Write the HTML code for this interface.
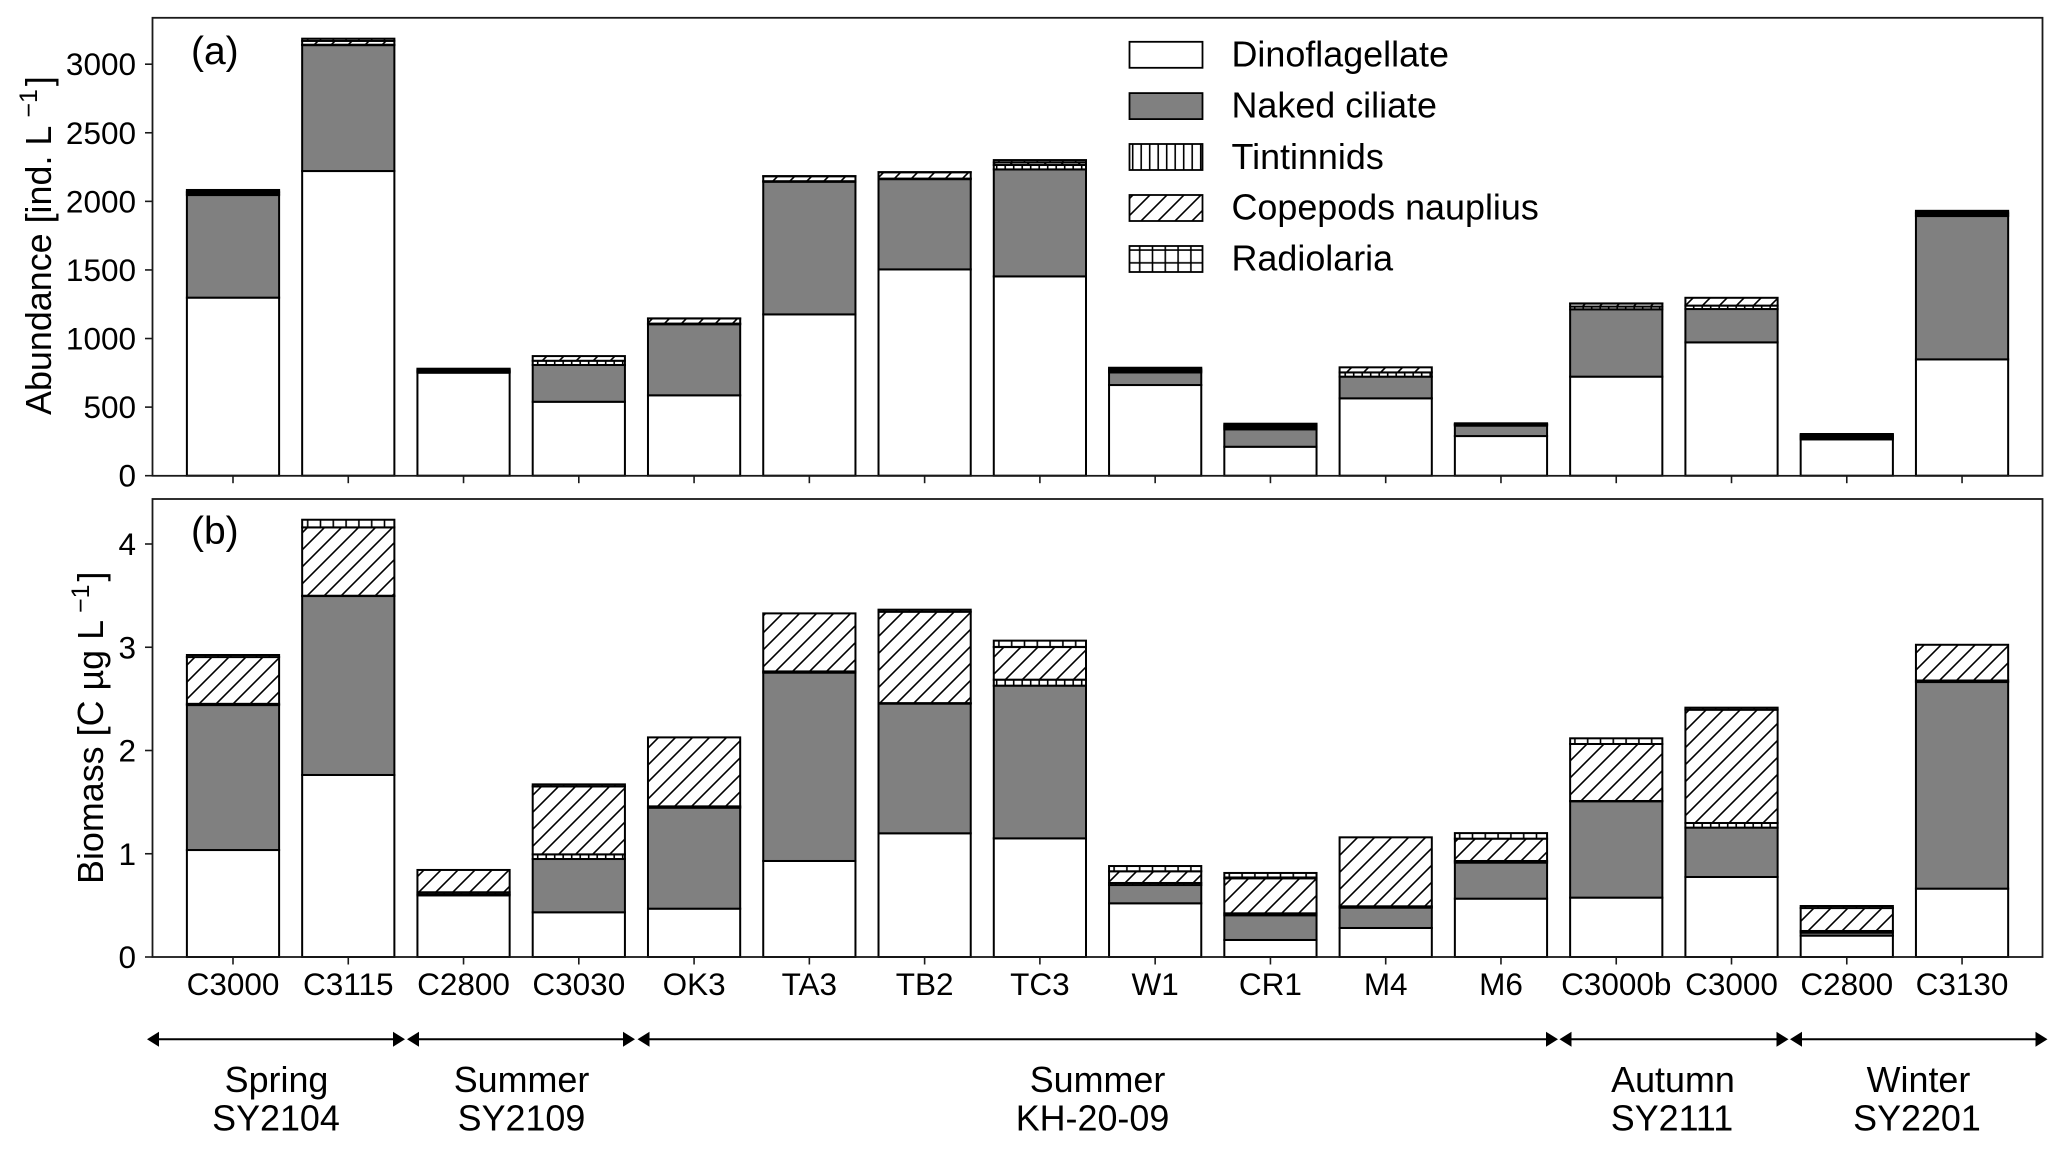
<!DOCTYPE html>
<html lang="en">
<head>
<meta charset="utf-8">
<title>Microzooplankton abundance and biomass</title>
<style>
  html, body { margin: 0; padding: 0; background: #fff; }
  svg { display: block; }
  text { font-family: "Liberation Sans", Arial, sans-serif; fill: #000; }
  .big { font-size: 35.9px; }
  .tick { font-size: 31.5px; }
  .panel { font-size: 39px; }
</style>
</head>
<body>
<svg id="chart" xmlns="http://www.w3.org/2000/svg" width="2067" height="1149" viewBox="0 0 2067 1149">
  <defs>
    <pattern id="hatch-tint" patternUnits="userSpaceOnUse" x="-2.05" y="0" width="8.5" height="8.5">
      <rect width="8.5" height="8.5" fill="#fff"/>
      <path d="M4.25 -1V9.5" stroke="#000" stroke-width="1.6"/>
    </pattern>
    <pattern id="hatch-cope" patternUnits="userSpaceOnUse" x="2" y="0" width="17" height="17">
      <rect width="17" height="17" fill="#fff"/>
      <path d="M-2 2L2 -2M-2 19L19 -2M15 19L19 15" stroke="#000" stroke-width="1.6"/>
    </pattern>
    <pattern id="hatch-radio" patternUnits="userSpaceOnUse" x="-5.9" y="0.4" width="12.8" height="12.8">
      <rect width="12.8" height="12.8" fill="#fff"/>
      <path d="M6.4 -1V14M-1 6.4H14" stroke="#000" stroke-width="1.6"/>
    </pattern>
  </defs>

  <rect width="2067" height="1149" fill="#fff"/>
  <g id="bars-a"></g>
  <g id="bars-b"></g>
  <rect x="152.5" y="17.8" width="1890" height="458" fill="none" stroke="#1a1a1a" stroke-width="1.8"/>
  <rect x="152.5" y="499" width="1890" height="458" fill="none" stroke="#1a1a1a" stroke-width="1.8"/>
  <g id="axes-a"></g>
  <g id="axes-b"></g>

  <text class="panel" x="191" y="64">(a)</text>
  <text class="panel" x="191" y="544">(b)</text>

  <text class="big" transform="translate(51 415) rotate(-90)">Abundance [ind. L<tspan dx="8" dy="-14" font-size="25">−1</tspan><tspan dx="3" dy="14">]</tspan></text>
  <text class="big" transform="translate(103 884) rotate(-90)">Biomass [C µg L<tspan dx="7" dy="-14" font-size="25">−1</tspan><tspan dx="3" dy="14">]</tspan></text>

  <g stroke="#000" stroke-width="1.8">
    <rect x="1129.5" y="41.8" width="73" height="26" fill="#fff"/>
    <rect x="1129.5" y="93.1" width="73" height="26" fill="#808080"/>
    <rect x="1129.5" y="144" width="73" height="26" fill="url(#hatch-tint)"/>
    <rect x="1129.5" y="195" width="73" height="26" fill="url(#hatch-cope)"/>
    <rect x="1129.5" y="246" width="73" height="26" fill="url(#hatch-radio)"/>
  </g>
  <g>
    <text class="big" x="1231.5" y="66.5">Dinoflagellate</text>
    <text class="big" x="1231.5" y="117.5">Naked ciliate</text>
    <text class="big" x="1231.5" y="169">Tintinnids</text>
    <text class="big" x="1231.5" y="219.5">Copepods nauplius</text>
    <text class="big" x="1231.5" y="270.5">Radiolaria</text>
  </g>

  <g stroke="#000" stroke-width="2" fill="#000">
    <g><path d="M156 1039.3H396"/><path stroke="none" d="M147 1039.3L159 1031.8V1046.8ZM405 1039.3L393 1031.8V1046.8Z"/></g>
    <g><path d="M416 1039.3H626"/><path stroke="none" d="M407 1039.3L419 1031.8V1046.8ZM635 1039.3L623 1031.8V1046.8Z"/></g>
    <g><path d="M646 1039.3H1549"/><path stroke="none" d="M637.5 1039.3L649.5 1031.8V1046.8ZM1558 1039.3L1546 1031.8V1046.8Z"/></g>
    <g><path d="M1568 1039.3H1780"/><path stroke="none" d="M1559.5 1039.3L1571.5 1031.8V1046.8ZM1788.5 1039.3L1776.5 1031.8V1046.8Z"/></g>
    <g><path d="M1798 1039.3H2039"/><path stroke="none" d="M1790 1039.3L1802 1031.8V1046.8ZM2047.5 1039.3L2035.5 1031.8V1046.8Z"/></g>
  </g>
  <g text-anchor="middle">
    <text class="big" x="276.5" y="1092">Spring</text>
    <text class="big" x="276" y="1130.5">SY2104</text>
    <text class="big" x="521.5" y="1092">Summer</text>
    <text class="big" x="521.5" y="1130.5">SY2109</text>
    <text class="big" x="1097.5" y="1092">Summer</text>
    <text class="big" x="1092.5" y="1130.5">KH-20-09</text>
    <text class="big" x="1673" y="1092">Autumn</text>
    <text class="big" x="1672" y="1130.5">SY2111</text>
    <text class="big" x="1918.5" y="1092">Winter</text>
    <text class="big" x="1917" y="1130.5">SY2201</text>
  </g>
</svg>
<script>
const stations = ["C3000","C3115","C2800","C3030","OK3","TA3","TB2","TC3","W1","CR1","M4","M6","C3000b","C3000","C2800","C3130"];

const abundanceDino   = [1298,2221,751,539,586,1176,1504,1453,661,211,564,289,722,972,265,848];
const abundanceNaked  = [748,918,5,268,518,967,658,780,92,127,158,76,491,243,12,1045];
const abundanceTint   = [12,3,8,31,5,4,4,32,11,14,31,6,20,25,9,13];
const abundanceCope   = [12,28,8,34,37,36,46,18,11,14,37,6,22,57,9,12];
const abundanceRadio  = [13,16,8,0,1,1,1,18,12,13,0,5,1,0,9,13];

const biomassDino   = [1.036,1.763,0.597,0.433,0.468,0.93,1.198,1.149,0.52,0.165,0.281,0.565,0.575,0.775,0.207,0.662];
const biomassNaked  = [1.404,1.733,0.01,0.516,0.978,1.824,1.256,1.479,0.177,0.239,0.197,0.349,0.933,0.478,0.029,2.001];
const biomassTint   = [0.012,0.003,0.02,0.045,0.013,0.012,0.005,0.058,0.02,0.019,0.013,0.016,0.003,0.045,0.016,0.015];
const biomassCope   = [0.453,0.662,0.216,0.658,0.668,0.562,0.885,0.316,0.113,0.339,0.668,0.216,0.552,1.097,0.222,0.346];
const biomassRadio  = [0.02,0.074,0,0.02,0,0,0.02,0.062,0.051,0.052,0,0.054,0.055,0.02,0.02,0];

const abundanceTicks = [0,500,1000,1500,2000,2500,3000];
const biomassTicks = [0,1,2,3,4];
const seriesNames = ["dinoflagellate","naked-ciliate","tintinnids","copepods-nauplius","radiolaria"];
const seriesFills = ["#fff","#808080","url(#hatch-tint)","url(#hatch-cope)","url(#hatch-radio)"];

const SVG_NS = "http://www.w3.org/2000/svg";
const barWidthUnits = 0.8;

function xScale(i) { return 233 + i * 115.27; }
function abundanceY(v) { return 475.7 - v * 0.13717; }
function biomassY(v) { return 957 - v * 103.25; }

function drawBars(groupId, panel, yScale, series) {
  const group = document.getElementById(groupId);
  const w = barWidthUnits * 115.27;
  stations.forEach(function (station, i) {
    let base = 0;
    series.forEach(function (values, s) {
      const top = base + values[i];
      const r = document.createElementNS(SVG_NS, "rect");
      r.setAttribute("x", xScale(i) - w / 2);
      r.setAttribute("y", yScale(top));
      r.setAttribute("width", w);
      r.setAttribute("height", yScale(base) - yScale(top));
      r.setAttribute("fill", seriesFills[s]);
      r.setAttribute("stroke", "#000");
      r.setAttribute("stroke-width", "2");
      
      
      group.appendChild(r);
      base = top;
    });
  });
}

function drawYAxis(groupId, panel, yScale, ticks) {
  const group = document.getElementById(groupId);
  ticks.forEach(function (t) {
    const y = yScale(t);
    const line = document.createElementNS(SVG_NS, "line");
    line.setAttribute("x1", 145);
    line.setAttribute("x2", 152.5);
    line.setAttribute("y1", y);
    line.setAttribute("y2", y);
    line.setAttribute("stroke", "#1a1a1a");
    line.setAttribute("stroke-width", "1.6");
    
    
    group.appendChild(line);
    const label = document.createElementNS(SVG_NS, "text");
    label.setAttribute("class", "tick");
    label.setAttribute("x", 136);
    label.setAttribute("y", y + 11);
    label.setAttribute("text-anchor", "end");
    label.textContent = String(t);
    
    
    group.appendChild(label);
  });
}

function drawXAxis(groupId, panel, baseline, showLabels) {
  const group = document.getElementById(groupId);
  stations.forEach(function (station, i) {
    const x = xScale(i);
    const line = document.createElementNS(SVG_NS, "line");
    line.setAttribute("x1", x);
    line.setAttribute("x2", x);
    line.setAttribute("y1", baseline);
    line.setAttribute("y2", baseline + 7.5);
    line.setAttribute("stroke", "#1a1a1a");
    line.setAttribute("stroke-width", "1.6");
    
    
    group.appendChild(line);
    if (showLabels) {
      const label = document.createElementNS(SVG_NS, "text");
      label.setAttribute("class", "tick");
      label.setAttribute("x", x);
      label.setAttribute("y", 995);
      label.setAttribute("text-anchor", "middle");
      label.textContent = station;
      
      
      group.appendChild(label);
    }
  });
}

drawBars("bars-a", "abundance", abundanceY, [abundanceDino, abundanceNaked, abundanceTint, abundanceCope, abundanceRadio]);
drawBars("bars-b", "biomass", biomassY, [biomassDino, biomassNaked, biomassTint, biomassCope, biomassRadio]);
drawYAxis("axes-a", "abundance", abundanceY, abundanceTicks);
drawYAxis("axes-b", "biomass", biomassY, biomassTicks);
drawXAxis("axes-a", "abundance", 475.7, false);
drawXAxis("axes-b", "biomass", 957, true);
</script>
</body>
</html>
